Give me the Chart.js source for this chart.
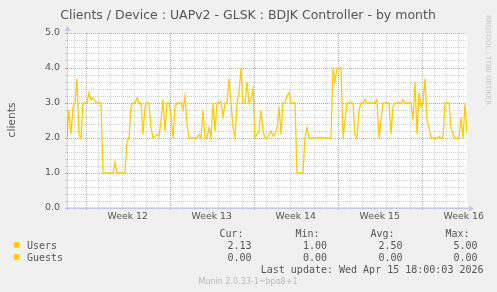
<!DOCTYPE html>
<html lang="en">
<head>
  <meta charset="UTF-8">
  <title>Clients / Device : UAPv2 - GLSK : BDJK Controller - by month</title>
  <script src="https://cdn.jsdelivr.net/npm/chart.js"></script>
  <style>
    html, body {
      margin: 0;
      padding: 0;
      background: #f0f0f0;
    }
    canvas {
      display: block;
    }
  </style>
</head>
<body>
<canvas id="clientsChart" width="497" height="292"></canvas>

<script>
  // one sample every 4 hours, starting at the left edge of the graph
  const SAMPLE_HOURS = 4;
  const RANGE_HOURS = 800;

  const users = [
    2.0, 2.8, 2.1, 2.9, 3.0, 3.7, 2.1, 2.0, 3.0, 3.0,
    3.0, 3.3, 3.1, 3.15, 3.05, 3.0, 3.0, 3.0, 1.0, 1.0,
    1.0, 1.0, 1.0, 1.0, 1.3, 1.0, 1.0, 1.0, 1.0, 1.0,
    1.9, 2.0, 2.9, 3.0, 3.0, 3.15, 3.0, 3.0, 2.1, 2.9,
    3.0, 3.0, 2.3, 2.0, 2.05, 2.1, 2.05, 2.5, 3.1, 2.2,
    3.0, 3.0, 2.6, 2.0, 2.9, 3.0, 3.0, 3.0, 2.8, 3.2,
    2.4, 2.0, 2.0, 2.0, 2.0, 2.0, 2.1, 2.0, 2.8, 2.0,
    2.0, 2.3, 2.0, 3.0, 2.2, 3.0, 3.0, 3.05, 2.6, 3.0,
    3.0, 3.7, 3.0, 2.3, 2.0, 3.0, 3.3, 4.0, 3.0, 3.0,
    3.6, 3.0, 3.1, 3.4, 2.0, 2.1, 2.2, 2.8, 2.2, 2.0,
    2.0, 2.1, 2.2, 2.05, 2.1, 2.3, 2.9, 2.1, 3.0, 3.0,
    3.2, 3.3, 3.0, 3.0, 3.0, 1.0, 1.0, 1.0, 1.0, 2.0,
    2.3, 2.0, 2.0, 2.0, 2.0, 2.0, 2.0, 2.0, 2.0, 2.0,
    2.0, 2.0, 2.0, 4.0, 3.6, 4.0, 4.0, 4.0, 2.0, 2.5,
    3.0, 3.0, 3.0, 3.0, 2.1, 2.0, 2.8, 3.0, 3.0, 3.1,
    3.0, 3.0, 3.0, 3.0, 3.0, 3.1, 2.0, 2.5, 3.0, 3.0,
    3.0, 3.0, 2.1, 2.9, 3.0, 3.0, 3.0, 3.0, 3.1, 3.0,
    3.0, 3.0, 3.0, 2.5, 3.6, 2.1, 3.3, 2.9, 3.0, 3.7,
    2.5, 2.3, 2.0, 2.0, 2.0, 2.0, 2.05, 2.0, 2.0, 3.0,
    3.0, 3.0, 2.3, 2.1, 2.0, 2.0, 2.0, 2.6, 2.0, 3.0,
    2.13
  ];

  // guests stayed at zero for the whole month
  const guestHours = [0, 800];
  const guests = [0, 0];

  const weekLabels = ['Week 12', 'Week 13', 'Week 14', 'Week 15', 'Week 16'];
  const weekStartHours = [37.5, 205.5, 373.5, 541.5, 709.5];
  const firstDayHour = 13.5;

  const seriesNames = ['Users', 'Guests'];
  const curValues = ['2.13', '0.00'];
  const minValues = ['1.00', '0.00'];
  const avgValues = ['2.50', '0.00'];
  const maxValues = ['5.00', '0.00'];
  const lastUpdate = 'Last update: Wed Apr 15 18:00:03 2026';

  const LINE_COLOR = '#ffcc00';
  const TEXT_COLOR = '#555555';
  const MINOR_GRID = '#d2d2d2';
  const MAJOR_GRID = '#e99494';
  const AXIS_COLOR = 'rgba(120, 120, 225, 0.35)';

  const isWhole = v => Math.abs(v - Math.round(v)) < 1e-6;

  // munin-style frame: backgrounds, day grid, axes with arrows, legend and watermarks
  const muninFrame = {
    id: 'muninFrame',
    beforeDraw(chart) {
      const { ctx, chartArea: a } = chart;
      ctx.save();
      ctx.fillStyle = '#f0f0f0';
      ctx.fillRect(0, 0, chart.width, chart.height);
      ctx.fillStyle = '#ffffff';
      ctx.fillRect(a.left, a.top, a.right - a.left, a.bottom - a.top);
      ctx.restore();
    },
    beforeDatasetsDraw(chart) {
      const { ctx, chartArea: a } = chart;
      const xs = chart.scales.x;
      ctx.save();
      ctx.lineWidth = 1;
      ctx.setLineDash([1, 1]);
      for (let h = firstDayHour; h < RANGE_HOURS; h += 24) {
        const major = weekStartHours.some(w => Math.abs(w - h) < 0.01);
        const px = Math.round(xs.getPixelForValue(h)) + 0.5;
        ctx.strokeStyle = major ? MAJOR_GRID : MINOR_GRID;
        ctx.beginPath();
        ctx.moveTo(px, a.top);
        ctx.lineTo(px, a.bottom + 3);
        ctx.stroke();
      }
      ctx.restore();
    },
    afterDatasetsDraw(chart) {
      const { ctx, chartArea: a } = chart;
      const x0 = Math.round(a.left) + 0.5;
      const y0 = Math.round(a.bottom) + 0.5;
      ctx.save();
      ctx.strokeStyle = AXIS_COLOR;
      ctx.fillStyle = AXIS_COLOR;
      ctx.lineWidth = 1;
      ctx.beginPath();
      ctx.moveTo(x0, a.bottom + 2);
      ctx.lineTo(x0, a.top - 2);
      ctx.moveTo(a.left - 2, y0);
      ctx.lineTo(a.right + 2, y0);
      ctx.stroke();
      // arrow heads
      ctx.beginPath();
      ctx.moveTo(x0, a.top - 7);
      ctx.lineTo(x0 - 3, a.top - 2);
      ctx.lineTo(x0 + 3, a.top - 2);
      ctx.closePath();
      ctx.fill();
      ctx.beginPath();
      ctx.moveTo(a.right + 7, y0);
      ctx.lineTo(a.right + 2, y0 - 3);
      ctx.lineTo(a.right + 2, y0 + 3);
      ctx.closePath();
      ctx.fill();
      ctx.restore();
    },
    afterDraw(chart) {
      const { ctx } = chart;
      ctx.save();
      ctx.fillStyle = TEXT_COLOR;

      // title
      ctx.font = '12.5px "DejaVu Sans"';
      ctx.textAlign = 'center';
      ctx.textBaseline = 'alphabetic';
      ctx.fillText('Clients / Device : UAPv2 - GLSK : BDJK Controller - by month', 248, 18.5);

      // vertical axis title
      ctx.save();
      ctx.translate(15, 120);
      ctx.rotate(-Math.PI / 2);
      ctx.font = '10.7px "DejaVu Sans"';
      ctx.textAlign = 'center';
      ctx.fillText('clients', 0, 0);
      ctx.restore();

      // legend table
      ctx.font = '10px "DejaVu Sans Mono"';
      ctx.textAlign = 'right';
      const headerRight = [243.5, 319.5, 394.5, 469.5];
      const valueRight = [251.5, 327, 402.5, 477.5];
      ['Cur:', 'Min:', 'Avg:', 'Max:'].forEach((h, i) => ctx.fillText(h, headerRight[i], 236.5));
      seriesNames.forEach((name, r) => {
        const base = 249 + r * 12;
        const cols = [curValues[r], minValues[r], avgValues[r], maxValues[r]];
        ctx.fillStyle = LINE_COLOR;
        ctx.fillRect(14, base - 6.8, 5.5, 5.5);
        ctx.fillStyle = TEXT_COLOR;
        ctx.textAlign = 'left';
        ctx.fillText(name, 27, base);
        ctx.textAlign = 'right';
        cols.forEach((v, i) => ctx.fillText(v, valueRight[i], base));
      });
      ctx.fillText(lastUpdate, 483.5, 273);

      // watermarks
      ctx.fillStyle = '#b8b8b8';
      ctx.font = '8px "DejaVu Sans"';
      ctx.textAlign = 'center';
      ctx.fillText('Munin 2.0.33-1~bpo8+1', 248, 284);

      ctx.save();
      ctx.fillStyle = '#c4c4c4';
      ctx.translate(486, 15);
      ctx.rotate(Math.PI / 2);
      ctx.font = '7px "DejaVu Sans"';
      ctx.textAlign = 'left';
      ctx.fillText('RRDTOOL / TOBI OETIKER', 0, 0);
      ctx.restore();

      ctx.restore();
    }
  };

  const ctx = document.getElementById('clientsChart').getContext('2d');
  const chart = new Chart(ctx, {
    type: 'line',
    data: {
      datasets: [
        {
          label: 'Users',
          data: users.map((v, i) => ({ x: i * SAMPLE_HOURS, y: v })),
          borderColor: LINE_COLOR,
          borderWidth: 1.3,
          pointRadius: 0,
          tension: 0,
          fill: false
        },
        {
          label: 'Guests',
          data: guests.map((v, i) => ({ x: guestHours[i], y: v })),
          borderColor: LINE_COLOR,
          borderWidth: 1.2,
          pointRadius: 0,
          tension: 0,
          fill: false
        }
      ]
    },
    options: {
      responsive: false,
      animation: false,
      devicePixelRatio: 1,
      events: [],
      layout: {
        padding: { left: 0, top: 33, right: 30, bottom: 0 }
      },
      plugins: {
        legend: { display: false },
        title: { display: false },
        tooltip: { enabled: false }
      },
      scales: {
        x: {
          type: 'linear',
          min: 0,
          max: RANGE_HOURS,
          afterBuildTicks: scale => {
            scale.ticks = weekStartHours.map(h => ({ value: h + 84 }));
          },
          afterFit: scale => { scale.height = 84; },
          ticks: {
            autoSkip: false,
            maxRotation: 0,
            padding: 3,
            color: TEXT_COLOR,
            font: { family: '"DejaVu Sans"', size: 9.3 },
            callback: (value, index) => weekLabels[index]
          },
          grid: { display: false, drawTicks: false },
          border: { display: false }
        },
        y: {
          min: 0,
          max: 5,
          afterFit: scale => { scale.width = 67; },
          ticks: {
            stepSize: 0.2,
            maxTicksLimit: 100,
            autoSkip: false,
            padding: 5,
            color: TEXT_COLOR,
            font: { family: '"DejaVu Sans"', size: 9.5 },
            callback: v => (isWhole(v) ? v.toFixed(1) : '')
          },
          grid: {
            drawTicks: true,
            tickLength: 2,
            lineWidth: 1,
            color: c => {
              const v = c.tick ? c.tick.value : 0;
              if (v < 1e-6) return 'rgba(0,0,0,0)';
              return isWhole(v) ? MAJOR_GRID : MINOR_GRID;
            }
          },
          border: { display: false, dash: [1, 1] }
        }
      }
    },
    plugins: [muninFrame]
  });
</script>
</body>
</html>
